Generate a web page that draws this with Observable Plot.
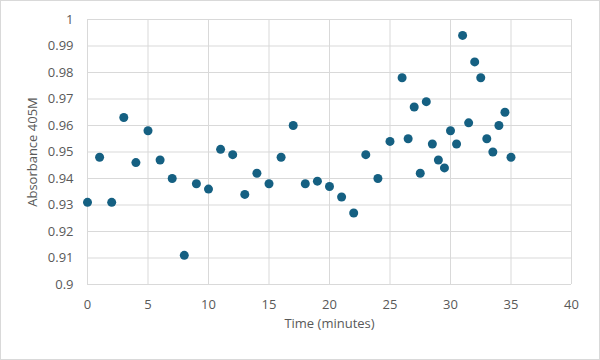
<!DOCTYPE html>
<html><head><meta charset="utf-8">
<script src="https://cdn.jsdelivr.net/npm/d3@7"></script>
<script src="https://cdn.jsdelivr.net/npm/@observablehq/plot@0.6"></script>
<style>
body{margin:0;background:#fff;}
#chart svg{outline:1px solid #d9d9d9;outline-offset:-1px;display:block;}
</style>
</head><body><div id="chart"></div>
<script>
const time = [0,1,2,3,4,5,6,7,8,9,10,11,12,13,14,15,16,17,18,19,20,21,22,23,24,25,
  26,26.5,27,27.5,28,28.5,29,29.5,30,30.5,31,31.5,32,32.5,33,33.5,34,34.5,35];
const absorbance = [0.931,0.948,0.931,0.963,0.946,0.958,0.947,0.940,0.911,0.938,0.936,0.951,0.949,0.934,0.942,0.938,0.948,0.960,0.938,0.939,0.937,0.933,0.927,0.949,0.940,0.954,
  0.978,0.955,0.967,0.942,0.969,0.953,0.947,0.944,0.958,0.953,0.994,0.961,0.984,0.978,0.955,0.950,0.960,0.965,0.948];
const xTicks = [0,5,10,15,20,25,30,35,40];
const yTicks = [0.9,0.91,0.92,0.93,0.94,0.95,0.96,0.97,0.98,0.99,1];

const data = time.map((t,i)=>({t, a: absorbance[i]}));
const fmt = v => String(+v.toFixed(2));

const chart = Plot.plot({
  width: 600, height: 360,
  marginLeft: 87, marginRight: 29, marginTop: 19, marginBottom: 76,
  style: {fontFamily: "'Open Sans', sans-serif", fontSize: "13px", color: "#595959", background: "#fff"},
  x: {domain: [0,40]},
  y: {domain: [0.9,1]},
  marks: [
    Plot.ruleX(xTicks, {stroke: "#d9d9d9", strokeWidth: 1, strokeOpacity: 1}),
    Plot.ruleY(yTicks, {stroke: "#d9d9d9", strokeWidth: 1, strokeOpacity: 1}),
    Plot.axisX(xTicks, {tickSize: 0, tickPadding: 15, label: "Time (minutes)", labelAnchor: "center", labelArrow: "none", labelOffset: 43, fill: "#595959", fontSize: 13}),
    Plot.axisY(yTicks, {tickSize: 0, tickPadding: 14, tickFormat: fmt, label: "Absorbance 405M", labelAnchor: "center", labelArrow: "none", labelOffset: 60, fill: "#595959", fontSize: 13}),
    Plot.dot(data, {x: "t", y: "a", r: 4.5, fill: "#156082", stroke: "none"})
  ]
});
document.getElementById("chart").append(chart);
</script>
</body></html>
